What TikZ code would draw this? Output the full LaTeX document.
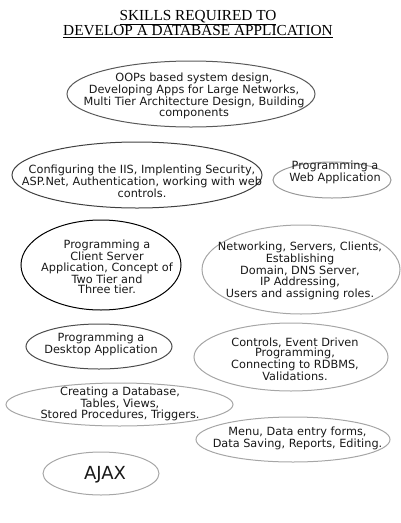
\documentclass[tikz,border=0pt]{standalone}
\usepackage{fontspec}
\setmainfont{Liberation Serif}
\newfontfamily\dvs{DejaVu Sans}
\usetikzlibrary{shapes.geometric}
\tikzset{
  skill/.style={ellipse, draw=#1, line width=1pt, inner sep=0pt},
  skill/.default={gray!70},
  txt/.style={align=center, inner sep=0pt, text=black!90, font=\dvs\fontsize{11.3}{10.5}\selectfont},
  ttl/.style={align=center, inner sep=0pt, font=\fontsize{15.3}{15.7}\selectfont}
}
\begin{document}
\begin{tikzpicture}[x=1pt,y=1pt]
\useasboundingbox (0,0) rectangle (401,-523);
\node[ttl] (title) at (198,-24) {\underline{SKILLS REQUIRED TO}\\\underline{DEVELOP A DATABASE APPLICATION}};

\node[skill=black!65, minimum width=248, minimum height=66] (e1) at (191,-94) {};
\node[txt] (t1) at (194,-96) {OOPs based system design,\\Developing Apps for Large Networks,\\Multi Tier Architecture Design, Building\\components};

\node[skill=black!75, minimum width=250, minimum height=66] (e2) at (137,-175) {};
\node[txt] (t2) at (142,-181) {Configuring the IIS, Implenting Security,\\ASP.Net, Authentication, working with web\\controls.};

\node[skill=gray!80, minimum width=118, minimum height=36] (e3) at (332,-180) {};
\node[txt] (t3) at (335,-172) {Programming a\\Web Application};

\node[skill=black, minimum width=160, minimum height=90] (e4) at (101,-265) {};
\node[txt] (t4) at (107,-267) {Programming a\\Client Server\\Application, Concept of\\Two Tier and\\Three tier.};

\node[skill, minimum width=198, minimum height=89] (e5) at (301,-269.5) {};
\node[txt] (t5) at (300,-271) {Networking, Servers, Clients,\\Establishing\\Domain, DNS Server,\\IP Addressing,\\Users and assigning roles.};

\node[skill=black!70, minimum width=146, minimum height=45] (e6) at (99,-346.5) {};
\node[txt] (t6) at (101,-344) {Programming a\\Desktop Application};

\node[skill, minimum width=194, minimum height=68] (e7) at (291,-357) {};
\node[txt] (t7) at (295,-359) {Controls, Event Driven\\Programming,\\Connecting to RDBMS,\\Validations.};

\node[skill, minimum width=227, minimum height=43] (e8) at (119.5,-404.5) {};
\node[txt] (t8) at (120,-404) {Creating a Database,\\Tables, Views,\\Stored Procedures, Triggers.};

\node[skill, minimum width=194, minimum height=45] (e9) at (293,-439.5) {};
\node[txt] (t9) at (297.5,-438) {Menu, Data entry forms,\\Data Saving, Reports, Editing.};

\node[skill, minimum width=116, minimum height=43] (e10) at (101,-473.5) {};
\node[txt, font=\dvs\fontsize{18}{20}\selectfont] (t10) at (105,-475) {AJAX};
\end{tikzpicture}
\end{document}
